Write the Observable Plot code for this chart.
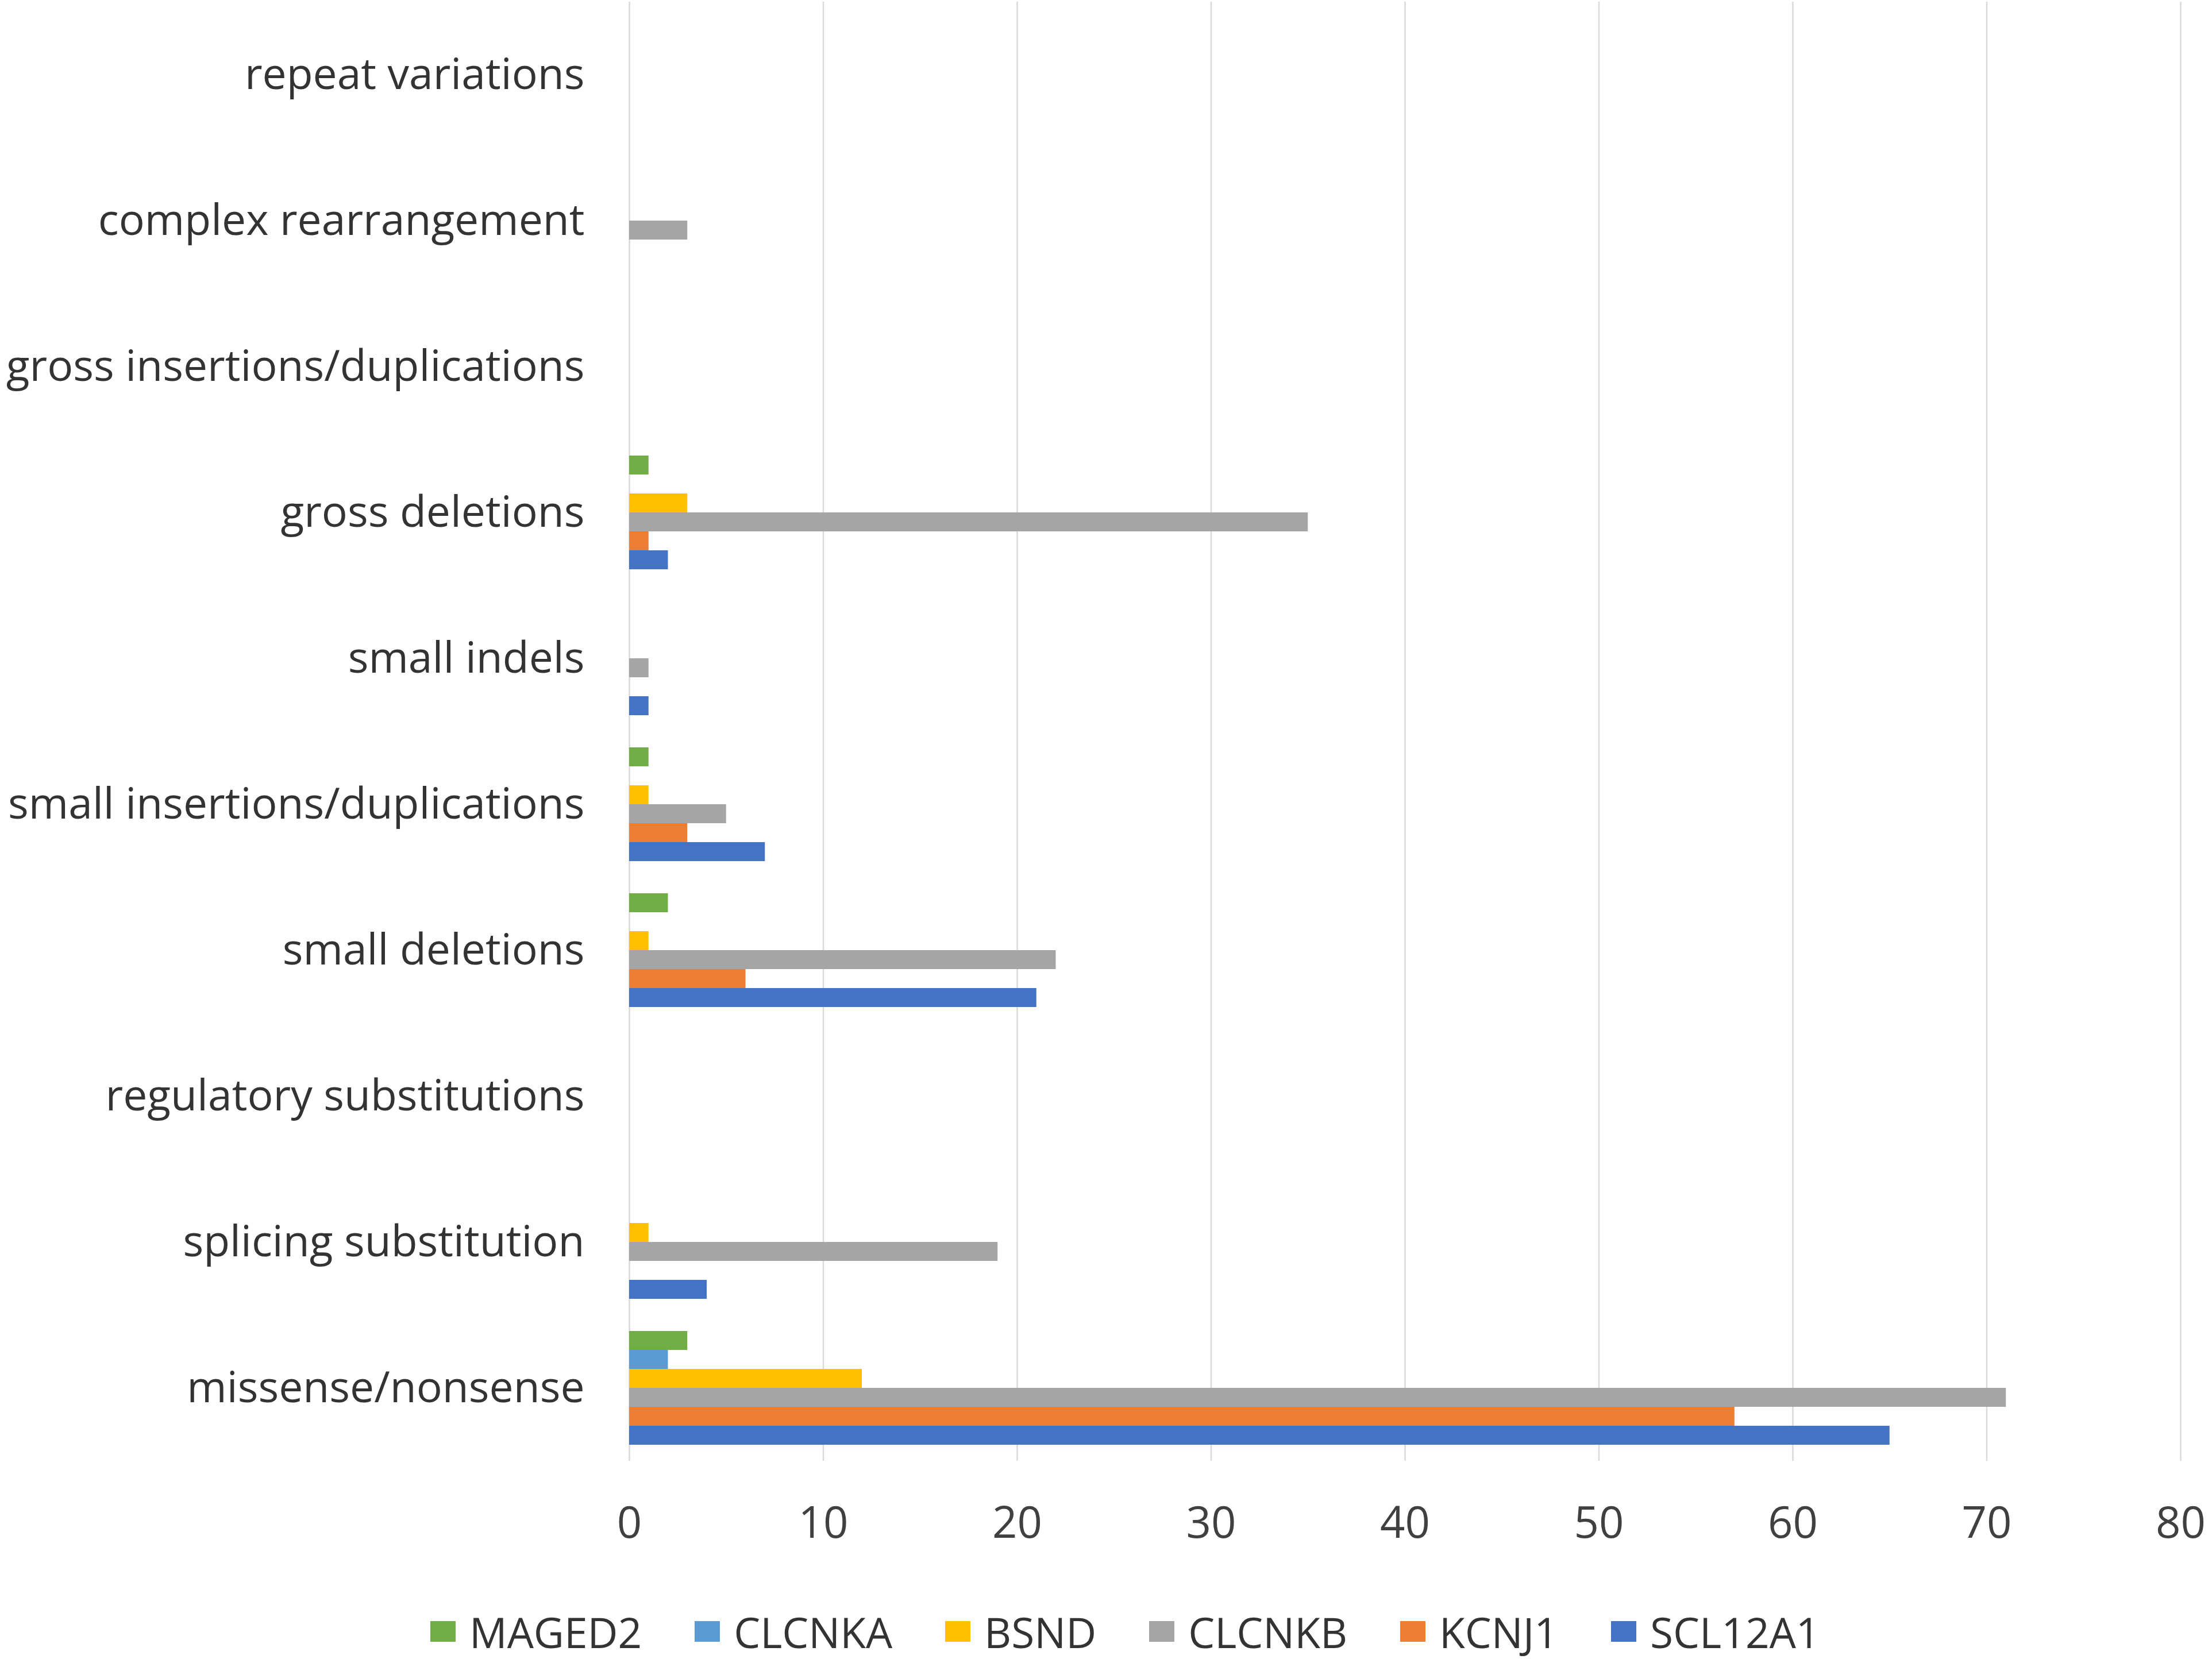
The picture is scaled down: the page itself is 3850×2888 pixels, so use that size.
<!DOCTYPE html>
<html>
<head>
<meta charset="utf-8">
<script src="https://cdn.jsdelivr.net/npm/d3@7"></script>
<script src="https://cdn.jsdelivr.net/npm/@observablehq/plot@0.6"></script>
<style>
  html, body { margin: 0; padding: 0; background: #fff; }
  body { width: 3850px; height: 2888px; overflow: hidden; position: relative; font-family: "Open Sans", sans-serif; }
  #chart svg g[aria-label^="x-axis"] text { font-size: 76px; fill: #404040; }
  #chart svg g[aria-label^="fy-axis"] text { font-size: 75px; fill: #333; }
  #legend { position: absolute; left: 749px; top: 2800px; height: 80px; line-height: 1; display: flex; align-items: center; gap: 92px; font-size: 73px; color: #333; }
  #legend .item { display: flex; align-items: center; gap: 24px; line-height: 1; }
  #legend .sw { width: 44px; height: 36px; display: inline-block; }
</style>
</head>
<body>
<div id="chart"></div>
<div id="legend"></div>
<script>
const categories = [
  "repeat variations",
  "complex rearrangement",
  "gross insertions/duplications",
  "gross deletions",
  "small indels",
  "small insertions/duplications",
  "small deletions",
  "regulatory substitutions",
  "splicing substitution",
  "missense/nonsense"
];
const genes = ["MAGED2", "CLCNKA", "BSND", "CLCNKB", "KCNJ1", "SCL12A1"];
const geneColors = ["#70AD47", "#5B9BD5", "#FFC000", "#A5A5A5", "#ED7D31", "#4472C4"];
// values aligned with categories (top to bottom)
const MAGED2  = [0, 0, 0, 1, 0, 1, 2, 0, 0, 3];
const CLCNKA  = [0, 0, 0, 0, 0, 0, 0, 0, 0, 2];
const BSND    = [0, 0, 0, 3, 0, 1, 1, 0, 1, 12];
const CLCNKB  = [0, 3, 0, 35, 1, 5, 22, 0, 19, 71];
const KCNJ1   = [0, 0, 0, 1, 0, 3, 6, 0, 0, 57];
const SCL12A1 = [0, 0, 0, 2, 1, 7, 21, 0, 4, 65];
const xTicks = [0, 10, 20, 30, 40, 50, 60, 70, 80];

const seriesValues = [MAGED2, CLCNKA, BSND, CLCNKB, KCNJ1, SCL12A1];
const data = categories.flatMap((c, i) =>
  genes.map((g, j) => ({category: c, gene: g, value: seriesValues[j][i]}))
);

const chart = Plot.plot({
  width: 3850,
  height: 2720,
  marginLeft: 1095,
  marginRight: 55,
  marginTop: 0,
  marginBottom: 175,
  style: {fontFamily: "Open Sans, sans-serif", fontSize: "66px", color: "#333", background: "#fff"},
  x: {domain: [0, 80], ticks: xTicks, tickSize: 0, tickPadding: 80, label: null, axis: "bottom"},
  y: {domain: genes, paddingInner: 0, paddingOuter: 0.82, axis: null},
  fy: {domain: categories, padding: 0, axis: "left", tickSize: 0, tickPadding: 78, label: null},
  color: {domain: genes, range: geneColors},
  marks: [
    Plot.ruleX(xTicks, {stroke: "#d9d9d9", strokeWidth: 2.5}),
    Plot.barX(data, {fy: "category", y: "gene", x: "value", fill: "gene", inset: 0})
  ]
});
document.getElementById("chart").appendChild(chart);

const legend = document.getElementById("legend");
genes.forEach((g, j) => {
  const item = document.createElement("div");
  item.className = "item";
  const sw = document.createElement("span");
  sw.className = "sw";
  sw.style.background = geneColors[j];
  const t = document.createElement("span");
  t.textContent = g;
  item.appendChild(sw);
  item.appendChild(t);
  legend.appendChild(item);
});
</script>
</body>
</html>
